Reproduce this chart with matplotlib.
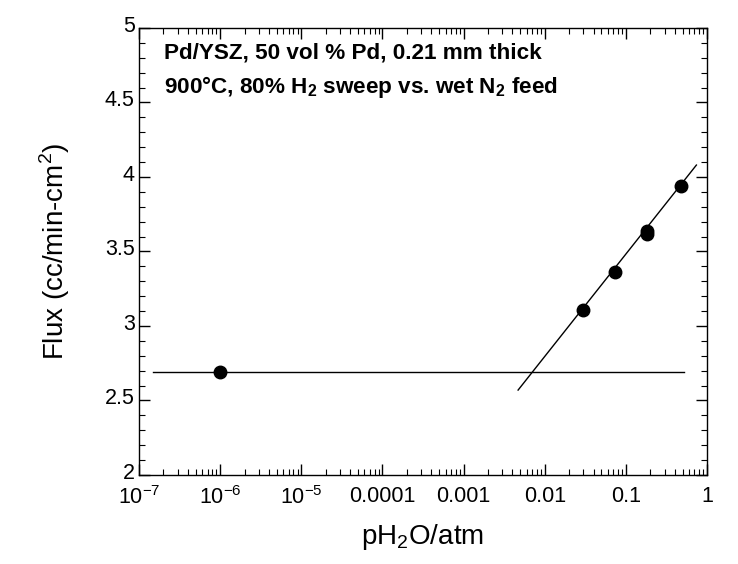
import matplotlib
matplotlib.use('Agg')
import matplotlib.pyplot as plt
import matplotlib.ticker as mticker
import matplotlib.transforms as mtransforms
import numpy as np

plt.rcParams['font.family'] = ['Liberation Sans', 'DejaVu Sans']
plt.rcParams['mathtext.fontset'] = 'custom'
plt.rcParams['mathtext.rm'] = 'Liberation Sans'
plt.rcParams['mathtext.bf'] = 'Liberation Sans:bold'

# measured data
p_h2o = [1.0e-6, 0.030, 0.074, 0.18, 0.18, 0.48]
flux = [2.69, 3.11, 3.36, 3.62, 3.64, 3.94]

# drawn lines
flat_x = [1.5e-7, 0.52]
flat_y = [2.69, 2.69]
fit_x = [0.0047, 0.74]
fit_y = [2.57, 4.08]

xticks = [1e-7, 1e-6, 1e-5, 1e-4, 1e-3, 1e-2, 1e-1, 1]
xticklabels = [r'$10^{-7}$', r'$10^{-6}$', r'$10^{-5}$', '0.0001', '0.001', '0.01', '0.1', '1']
yticks = [2, 2.5, 3, 3.5, 4, 4.5, 5]
yticklabels = ['2', '2.5', '3', '3.5', '4', '4.5', '5']

fig = plt.figure(figsize=(7.38, 5.64), dpi=100)
ax = fig.add_axes([0.1883, 0.1578, 0.7697, 0.7926])

ax.plot(flat_x, flat_y, color='black', lw=1)
ax.plot(fit_x, fit_y, color='black', lw=1)
ax.plot(p_h2o, flux, 'o', color='black', ms=9)

ax.set_xscale('log')
ax.set_xlim(1e-7, 1)
ax.set_ylim(2, 5)
ax.set_xticks(xticks)
ax.set_xticklabels(xticklabels)
ax.xaxis.set_minor_locator(mticker.LogLocator(base=10, subs=np.arange(2, 10), numticks=20))
ax.xaxis.set_minor_formatter(mticker.NullFormatter())
ax.set_yticks(yticks)
ax.set_yticklabels(yticklabels)
ax.yaxis.set_minor_locator(mticker.MultipleLocator(0.1))

ax.tick_params(which='both', direction='in', top=True, right=True, labelsize=15.5, colors='black')
ax.tick_params(axis='x', which='major', length=8, width=1, pad=8)
ax.tick_params(axis='y', which='major', length=8, width=1, pad=3)
ax.tick_params(which='minor', length=4, width=0.8)
for s in ax.spines.values():
    s.set_linewidth(1)

# y labels sit a touch high in the original
shift = mtransforms.ScaledTranslation(0, 3 / 72, fig.dpi_scale_trans)
for lab in ax.get_yticklabels():
    lab.set_transform(lab.get_transform() + shift)

ax.set_xlabel(r'pH$_2$O/atm', fontsize=20, labelpad=9)
ax.set_ylabel(r'Flux (cc/min-cm$^2$)', fontsize=20, labelpad=24)

ax.text(0.044, 0.944, 'Pd/YSZ, 50 vol % Pd, 0.21 mm thick', transform=ax.transAxes,
        fontsize=16.2, fontweight='bold', va='center', ha='left')
ax.text(0.044, 0.868, r'900°C, 80% H$_\mathbf{2}$ sweep vs. wet N$_\mathbf{2}$ feed', transform=ax.transAxes,
        fontsize=16.2, fontweight='bold', va='center', ha='left')

fig.savefig('out.png', dpi=100)
